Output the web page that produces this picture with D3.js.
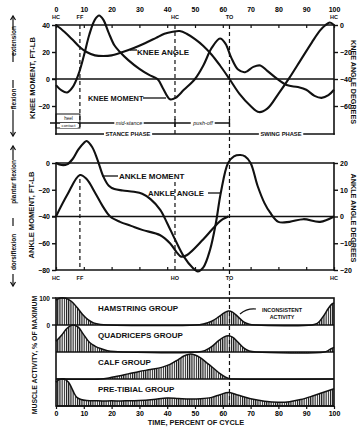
<!DOCTYPE html>
<html>
<head>
<meta charset="utf-8">
<script src="https://cdn.jsdelivr.net/npm/d3@7"></script>
<style>
  body { margin: 0; background: #fff; }
  svg { display: block; }
</style>
</head>
<body>
<svg id="chart" width="358" height="427"></svg>
<script>
// all series are [percent of gait cycle, value]
const kneeMoment = [
  [0,-4.5],[2,-8.5],[4,-10],[6,-6],[8,3],[10,17],[12,33],[14,44],[15.5,47],[17,44],[19,34],
  [21,25],[23,20],[26,14],[30,7.5],[33.5,3],[36.5,0],[38.5,-7],[41,-15],[43,-14],[46,-8],
  [50,0],[53,10],[56,23],[59,30],[61,26],[63,16],[65.5,7],[68,5],[71,9],[73.5,10],[76,6],
  [79,1],[83,-4.5],[87,-6],[90,-8],[93,-12.5],[95.5,-14],[98,-12],[100,-8]
];
const kneeAngle = [
  [0,0],[3,-5],[6,-11],[8.6,-16.5],[11,-20],[14,-22.5],[17,-23],[20,-22.5],[24,-20],[28,-17],
  [32,-13.5],[36,-9.5],[39,-6.5],[42,-5],[44.5,-4.5],[47,-6.5],[50,-10.5],[53,-15.5],[56,-22],
  [59,-30],[62.4,-40],[66,-51],[70,-60],[73,-64.5],[76,-62],[80,-51],[84,-39],[88,-26],
  [92,-13],[95,-4],[97,0],[98.5,1.8],[100,0]
];
const ankleMoment = [
  [0,0],[2,-1.5],[4,-1],[6,3],[8,10],[10,15],[11,16.5],[13,12],[15,2],[17,-10],[19,-17],
  [21,-19.5],[24,-20.5],[28,-21.5],[31,-23],[34,-27],[37.5,-35],[40,-45],[43,-58],[46,-70],
  [49,-78],[51,-81],[53,-78],[55.4,-65],[57.5,-45],[59.3,-22],[61.9,0],[64,5],[66.3,6],
  [68,5],[70,0],[72.5,-17],[75,-30],[77,-37],[80,-44],[84,-44],[89,-42],[95,-44],[100,-40]
];
const ankleAngle = [
  [0,0],[4,8],[8.6,15.5],[11,14],[14,9],[17,3.5],[19.5,0],[23,-2],[27,-3.5],[31,-5],
  [37.5,-7],[41,-10],[43.5,-13.5],[45,-15],[47,-14.5],[53,-8.5],[58.2,-2.5],[60,-1],[62,0]
];

const muscleGroups = ["HAMSTRING GROUP", "QUADRICEPS GROUP", "CALF GROUP", "PRE-TIBIAL GROUP"];
const hamstring = [
  [0,92],[1.5,100],[3.5,99],[5.5,88],[7.5,66],[9.5,40],[11.5,20],[13.5,8],[16,2],[19,0],
  [50,0],[53,4],[56,14],[58.5,30],[60.5,45],[62,52],[63.5,48],[65.5,30],[67.5,12],[69.5,3],
  [72,0],[92,0],[94,6],[96,30],[98,62],[99.3,78],[100,82]
];
const quadriceps = [
  [0,40],[2,62],[4,88],[6,100],[8,92],[9.7,68],[12,36],[14,22],[16,13],[18.5,5],[21,1.5],
  [24,0],[51,0],[53.5,5],[56,20],[58.5,42],[60.5,56],[62,60],[63.5,55],[65.5,36],[67.5,15],
  [69.5,4],[72,0],[96.5,0],[98,6],[99,12],[100,17]
];
const calf = [
  [0,0],[16,0],[19,4],[22,10],[26,19],[30,28],[34,35],[38,43],[41,54],[44,72],[46,85],
  [48,92],[50,89],[52,78],[54.5,58],[57,37],[59,20],[61,7],[62.5,1],[64,0],[100,0]
];
const preTibial = [
  [0,88],[1,97],[3,100],[4.5,88],[5.5,70],[6.5,48],[7.5,32],[9,24],[11,20],[15,19],[20,19],
  [25,19],[30,20],[35,24],[40,30],[44,28],[48,26],[52,27],[56,32],[59,42],[62,50],[65,42],
  [70,27],[75,18],[80,14],[84,16],[88,24],[92,36],[96,50],[100,64]
];
const muscleSeries = [hamstring, quadriceps, calf, preTibial];

const pctTicks = [0, 10, 20, 30, 40, 50, 60, 70, 80, 90, 100];
const kneeMomentTicks = [40, 20, 0, -20];
const kneeAngleTicks = [0, -20, -40, -60];
const ankleMomentTicks = [0, -20, -40, -60, -80];
const ankleAngleTicks = [20, 10, 0, -10, -20];
const topEvents = [["HC", 0], ["FF", 8.6], ["HC", 42.8], ["TO", 62.4], ["HC", 100]];
const midEvents = [["HC", 0], ["FF", 8.6], ["HO", 42.8], ["TO", 62.4], ["HC", 100]];

const FONT = "'Liberation Sans', Arial, sans-serif";
const INK = "#111";

const svg = d3.select("#chart")
  .attr("font-family", FONT)
  .attr("font-weight", "bold");

svg.append("defs").append("pattern")
  .attr("id", "hatch")
  .attr("patternUnits", "userSpaceOnUse")
  .attr("width", 2.2)
  .attr("height", 4)
  .append("rect")
  .attr("width", 1.1)
  .attr("height", 4)
  .attr("fill", INK);

const x = d3.scaleLinear().domain([0, 100]).range([56, 334]);
const yKM = d3.scaleLinear().domain([-20, 40]).range([106, 25]);
const yKA = d3.scaleLinear().domain([-60, 0]).range([106, 25]);
const yAM = d3.scaleLinear().domain([-80, 0]).range([270, 163]);
const yAA = d3.scaleLinear().domain([-20, 20]).range([270, 163]);
const yStrip = d3.scaleBand().domain(muscleGroups).range([298, 406]);

function hline(y, x1, x2, w) {
  svg.append("line").attr("x1", x1).attr("x2", x2).attr("y1", y).attr("y2", y)
    .attr("stroke", INK).attr("stroke-width", w || 1.6);
}
function vline(xp, y1, y2, w, dash) {
  svg.append("line").attr("x1", xp).attr("x2", xp).attr("y1", y1).attr("y2", y2)
    .attr("stroke", INK).attr("stroke-width", w || 1.6)
    .attr("stroke-dasharray", dash || null);
}
// text with a white patch behind it, so it breaks the line it sits on
function label(txt, cx, cy, size, opts) {
  opts = opts || {};
  const g = svg.append("g");
  const t = g.append("text")
    .attr("x", cx).attr("y", cy)
    .attr("text-anchor", opts.anchor || "middle")
    .attr("dominant-baseline", "central")
    .attr("font-size", size)
    .attr("font-weight", opts.weight || "bold")
    .attr("font-style", opts.style || null)
    .attr("fill", INK)
    .text(txt);
  if (opts.rotate) t.attr("transform", `rotate(${opts.rotate},${cx},${cy})`);
  if (opts.bg) {
    const b = t.node().getBBox();
    let r = g.insert("rect", "text")
      .attr("x", b.x - 1.5).attr("y", b.y).attr("width", b.width + 3).attr("height", b.height)
      .attr("fill", "#fff");
    if (opts.rotate) r.attr("transform", `rotate(${opts.rotate},${cx},${cy})`);
  }
  return g;
}

const curve = (ys) => d3.line()
  .x(d => x(d[0]))
  .y(d => ys(d[1]))
  .curve(d3.curveCatmullRom.alpha(0.5));

// ---------- dashed event lines ----------
vline(x(8.6), 25, 127, 1.2, "4,3");
vline(x(42.8), 25, 134, 1.2, "4,3");
vline(x(8.6), 179, 270, 1.2, "4,3");
vline(x(42.8), 182, 270, 1.2, "4,3");
vline(x(62.4), 25, 406, 1.2, "4,3");

// ---------- top panel: knee ----------
hline(yKM(40), 56, 334);
hline(yKM(0), 52, 334);
vline(56, 24, 134.8);
vline(334, 24, 134.8);

const topAxis = svg.append("g")
  .attr("transform", `translate(0,${yKM(40)})`)
  .call(d3.axisTop(x).tickValues(pctTicks).tickSize(-3).tickPadding(13));
topAxis.select(".domain").remove();
topAxis.attr("font-family", FONT).attr("font-size", 7);
topAxis.selectAll("line").attr("stroke", INK).attr("stroke-width", 1.2);

topEvents.forEach(([t, p]) => label(t, x(p), 16.5, 5.5));

const kmAxis = svg.append("g")
  .attr("transform", "translate(56,0)")
  .call(d3.axisLeft(yKM).tickValues(kneeMomentTicks).tickSize(4).tickPadding(2)
    .tickFormat(d3.format("d")));
kmAxis.select(".domain").remove();
kmAxis.attr("font-family", FONT).attr("font-size", 7);
kmAxis.selectAll("line").attr("stroke", INK).attr("stroke-width", 1.4);

const kaAxis = svg.append("g")
  .attr("transform", "translate(334,0)")
  .call(d3.axisRight(yKA).tickValues(kneeAngleTicks).tickSize(4).tickPadding(2));
kaAxis.select(".domain").remove();
kaAxis.attr("font-family", FONT).attr("font-size", 7);
kaAxis.selectAll("line").attr("stroke", INK).attr("stroke-width", 1.4);

svg.append("path").datum(kneeMoment).attr("d", curve(yKM))
  .attr("fill", "none").attr("stroke", INK).attr("stroke-width", 2.1);
svg.append("path").datum(kneeAngle).attr("d", curve(yKA))
  .attr("fill", "none").attr("stroke", INK).attr("stroke-width", 2.1);

// curve labels
hline(50, 130, 137, 1.3);
label("KNEE ANGLE", 137, 52, 8, { anchor: "start" });
label("KNEE MOMENT", 88, 98, 7.4, { anchor: "start" });
hline(98, 143, 166, 1.3);

// phase annotations
svg.append("rect").attr("x", 56).attr("y", 114).attr("width", x(8.6) - 56).attr("height", 14)
  .attr("fill", "none").attr("stroke", INK).attr("stroke-width", 1);
hline(123, 50, x(62.4), 1.3);
label("heel", 68.5, 118.5, 4.6, { weight: "normal" });
label("contact", 68.5, 125.5, 4.3, { weight: "normal", bg: true });
label("mid-stance", 129, 123, 5.4, { weight: "normal", style: "italic", bg: true });
label("push-off", 203, 123, 5.4, { weight: "normal", style: "italic", bg: true });
vline(x(42.8), 119, 127, 1.3);
vline(x(62.4), 119, 127, 1.3);

hline(134, 55.2, 334.8);
label("STANCE PHASE", 128, 134, 5.8, { bg: true });
label("SWING PHASE", 281, 134, 5.8, { bg: true });

// ---------- middle panel: ankle ----------
hline(yAM(0), 56, 334);
hline(yAM(-40), 52, 334);
hline(yAM(-80), 56, 334);
vline(56, 162.2, 270.8);
vline(334, 162.2, 270.8);

const midAxis = svg.append("g")
  .attr("transform", `translate(0,${yAM(-80)})`)
  .call(d3.axisTop(x).tickValues(pctTicks).tickSize(3).tickFormat(""));
midAxis.select(".domain").remove();
midAxis.selectAll("line").attr("stroke", INK).attr("stroke-width", 1.2);

midEvents.forEach(([t, p]) => label(t, x(p), 277.5, 5.5, { bg: true }));

const amAxis = svg.append("g")
  .attr("transform", "translate(56,0)")
  .call(d3.axisLeft(yAM).tickValues(ankleMomentTicks).tickSize(4).tickPadding(2));
amAxis.select(".domain").remove();
amAxis.attr("font-family", FONT).attr("font-size", 7);
amAxis.selectAll("line").attr("stroke", INK).attr("stroke-width", 1.4);

const aaAxis = svg.append("g")
  .attr("transform", "translate(334,0)")
  .call(d3.axisRight(yAA).tickValues(ankleAngleTicks).tickSize(4).tickPadding(2));
aaAxis.select(".domain").remove();
aaAxis.attr("font-family", FONT).attr("font-size", 7);
aaAxis.selectAll("line").attr("stroke", INK).attr("stroke-width", 1.4);

svg.append("path").datum(ankleMoment).attr("d", curve(yAM))
  .attr("fill", "none").attr("stroke", INK).attr("stroke-width", 2.1);
svg.append("path").datum(ankleAngle).attr("d", curve(yAA))
  .attr("fill", "none").attr("stroke", INK).attr("stroke-width", 2.1);

hline(176, 102, 118, 1.3);
label("ANKLE MOMENT", 119, 176, 8, { anchor: "start" });
label("ANKLE ANGLE", 148, 193, 7.8, { anchor: "start" });
hline(193, 208, 220, 1.3);

// ---------- bottom panel: muscle activity ----------
muscleGroups.forEach((name, i) => {
  const top = yStrip(name);
  const bottom = top + yStrip.bandwidth();
  const ys = d3.scaleLinear().domain([0, 100]).range([bottom, top]);
  const area = d3.area()
    .x(d => x(d[0]))
    .y0(bottom)
    .y1(d => ys(d[1]))
    .curve(d3.curveCatmullRom.alpha(0.5));
  svg.append("path").datum(muscleSeries[i]).attr("d", area)
    .attr("fill", "url(#hatch)").attr("stroke", "none");
  svg.append("path").datum(muscleSeries[i]).attr("d", curve(ys))
    .attr("fill", "none").attr("stroke", INK).attr("stroke-width", 1.5);
  hline(bottom, 56, 334, 1.6);
  label(name, 98, top + 10.5, 8, { anchor: "start" });
});
svg.append("rect").attr("x", 56).attr("y", 298).attr("width", 278).attr("height", 108)
  .attr("fill", "none").attr("stroke", INK).attr("stroke-width", 1.6);

// 100 / 0 scale of first strip
const stripTop = yStrip(muscleGroups[0]);
label("100", 50, stripTop, 6.5, { anchor: "end" });
label("0", 50, stripTop + yStrip.bandwidth(), 6.5, { anchor: "end" });
hline(stripTop, 52, 56, 1.4);
hline(stripTop + yStrip.bandwidth(), 52, 56, 1.4);

const botAxis = svg.append("g")
  .attr("transform", "translate(0,406)")
  .call(d3.axisBottom(x).tickValues(pctTicks).tickSize(3).tickPadding(2));
botAxis.select(".domain").remove();
botAxis.attr("font-family", FONT).attr("font-size", 7);
botAxis.selectAll("line").attr("stroke", INK).attr("stroke-width", 1.2);

label("TIME, PERCENT OF CYCLE", 196, 422, 7.4);

// inconsistent activity note
svg.append("path").attr("d", "M240,314 Q247,308 256,309")
  .attr("fill", "none").attr("stroke", INK).attr("stroke-width", 1.2);
label("INCONSISTENT", 282, 309.5, 5.4);
label("ACTIVITY", 282, 316.5, 5.4);

// ---------- side titles ----------
label("KNEE MOMENT, FT-LB", 32, 78, 7.6, { rotate: -90 });
label("ANKLE MOMENT, FT-LB", 31, 215, 7.6, { rotate: -90 });
label("MUSCLE ACTIVITY, % OF MAXIMUM", 34, 355, 6.9, { rotate: -90 });
label("KNEE ANGLE DEGREES", 353, 82, 7.2, { rotate: 90 });
label("ANKLE ANGLE DEGREES", 353, 218, 7.2, { rotate: 90 });

// direction arrows on far left
function sideArrow(y1, y2, head) {
  vline(13, y1, y2, 1.2);
  if (head) {
    const dir = y2 < y1 ? -1 : 1;
    svg.append("path")
      .attr("d", `M10.5,${y2 - dir * 4}L13,${y2}L15.5,${y2 - dir * 4}`)
      .attr("fill", "none").attr("stroke", INK).attr("stroke-width", 1.2);
  }
}
sideArrow(30, 16, true);
label("extension", 13, 41, 6.4, { rotate: -90 });
sideArrow(52, 62, false);
sideArrow(88, 80, false);
label("flexion", 13, 99, 6.4, { rotate: -90 });
sideArrow(110, 136, true);

sideArrow(160, 146, true);
label("plantar flexion", 13, 182, 6.4, { rotate: -90 });
sideArrow(226, 218, false);
label("dorsiflexion", 13, 252, 6.4, { rotate: -90 });
sideArrow(274, 286, true);
</script>
</body>
</html>
